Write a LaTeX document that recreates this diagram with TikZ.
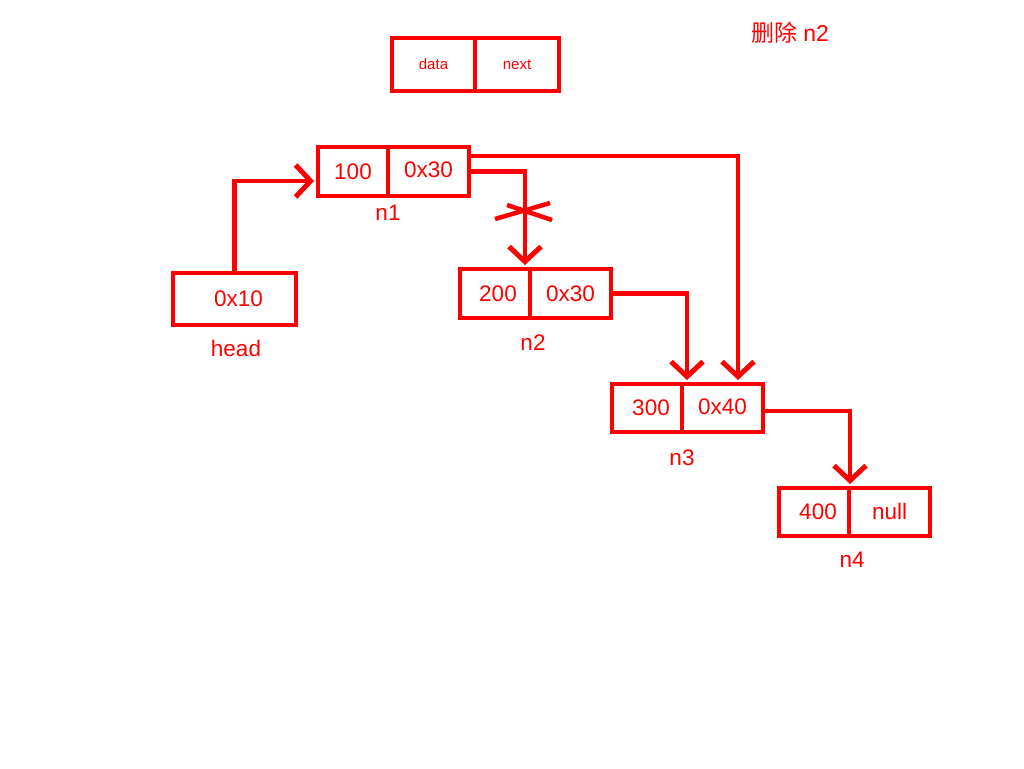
\documentclass[tikz,border=0pt]{standalone}
\usepackage{fontspec}
\setmainfont{Liberation Sans}
\newfontfamily\cjk{Noto Sans CJK SC}
\usetikzlibrary{arrows.meta,calc}
\definecolor{ink}{RGB}{255,0,0}
\tikzset{
  cell/.style={draw=ink, line width=4pt, inner sep=0pt, minimum height=49pt,
               text=ink, font=\fontsize{22.5}{26}\selectfont},
  tag/.style={text=ink, inner sep=0pt, font=\fontsize{22.5}{26}\selectfont},
  link/.style={draw=ink, line width=4.5pt, line join=miter,
               -{Straight Barb[length=15pt,width=32pt,line width=5pt]}, shorten >=2pt},
  cross/.style={draw=ink, line width=4.5pt}
}
\begin{document}
\begin{tikzpicture}[x=1pt,y=-1pt]
\useasboundingbox (0,0) rectangle (1024,768);

% legend
\node[cell, minimum width=83pt, minimum height=53pt, font=\fontsize{15}{18}\selectfont] (kd) at (433.5,64.5) {data};
\node[cell, minimum width=84pt, minimum height=53pt, font=\fontsize{15}{18}\selectfont] (kn) at (517,64.5) {next};
\node[tag, font=\fontsize{23}{27}\selectfont] (title) at (790,33) {{\cjk 删除} n2};

% head pointer
\node[cell, minimum width=123pt, minimum height=52pt] (head) at (234.5,299) {\hspace*{8pt}0x10};
\node[tag] (headlbl) at (236,348) {head};

% n1
\node[cell, minimum width=70pt] (n1d) at (353,171.5) {100};
\node[cell, minimum width=81pt] (n1n) at (428.5,171.5) {\raisebox{4pt}{0x30}};
\node[tag] (n1lbl) at (388,213) {n1};

% n2
\node[cell, minimum width=70pt] (n2d) at (495,293.5) {\hspace*{6pt}200};
\node[cell, minimum width=81pt] (n2n) at (570.5,293.5) {0x30};
\node[tag] (n2lbl) at (533,343) {n2};

% n3
\node[cell, minimum width=70pt, minimum height=48pt] (n3d) at (647,408) {\hspace*{8pt}300};
\node[cell, minimum width=81pt, minimum height=48pt] (n3n) at (722.5,408) {\raisebox{2pt}{0x40}};
\node[tag] (n3lbl) at (682,458) {n3};

% n4
\node[cell, minimum width=70pt, minimum height=48pt] (n4d) at (814,512) {\hspace*{8pt}400};
\node[cell, minimum width=81pt, minimum height=48pt] (n4n) at (889.5,512) {\raisebox{2pt}{null}};
\node[tag] (n4lbl) at (852,560) {n4};

% links
\draw[link] (head.north) |- ($(n1d.west)+(0,9.5)$);
\draw[link] (n1n.east) -| ($(n2d.north east)+(-7,0)$);
\draw[link] ($(n1n.east)+(0,-15.5)$) -| ($(n3n.north east)+(-27,0)$);
\draw[link] (n2n.east) -| ($(n3d.north east)+(3,0)$);
\draw[link] ($(n3n.east)+(0,3)$) -| ($(n4d.north east)+(-1,0)$);

% removed link marker
\coordinate (x) at (523,211);
\draw[cross] ($(x)+(-28,8)$) -- ($(x)+(27,-8)$);
\draw[cross] ($(x)+(-16,-6)$) -- ($(x)+(29,9)$);
\end{tikzpicture}
\end{document}
